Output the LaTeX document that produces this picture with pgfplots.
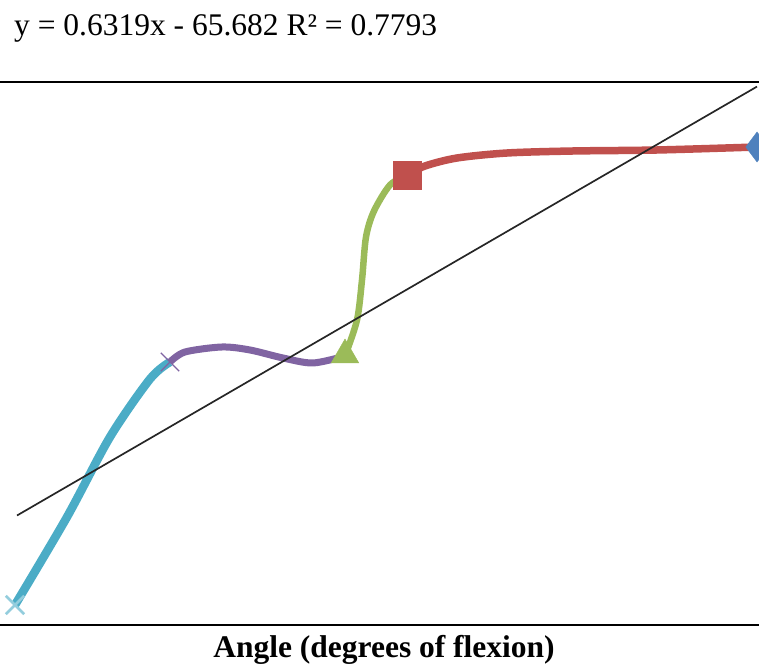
\documentclass[border=0pt]{standalone}
\usepackage{fontspec}
\setmainfont{Liberation Serif}
\usepackage{pgfplots}
\pgfplotsset{compat=1.18}
\definecolor{xlcyan}{HTML}{4BACC6}
\definecolor{xlpurple}{HTML}{8064A2}
\definecolor{xlgreen}{HTML}{9BBB59}
\definecolor{xlred}{HTML}{C0504D}
\definecolor{xlblue}{HTML}{4F81BD}
\begin{document}
\begin{tikzpicture}
\useasboundingbox (0pt,-38pt) rectangle (759pt,625pt);
\begin{axis}[
  scale only axis,
  width=759pt, height=543pt,
  xmin=0, xmax=759, ymin=0, ymax=543,
  axis x line=box, axis y line=none,
  x axis line style={black, line width=2pt},
  xtick=\empty, ytick=\empty,
  clip=true,
]
% cyan segment
\addplot[xlcyan, line width=8.5pt, smooth] coordinates {
  (15,20) (67,108) (110,188) (150,246) (170,263)
};
% purple segment
\addplot[xlpurple, line width=7pt, smooth] coordinates {
  (170,263) (185,273) (222,278) (250,275) (283,267) (313,262) (345,269)
};
% green segment
\addplot[xlgreen, line width=6.5pt, smooth] coordinates {
  (345,269) (357,305) (362,345) (366,388) (374,414) (390,440) (407,450)
};
% red segment
\addplot[xlred, line width=7.5pt, smooth] coordinates {
  (407,450) (425,459) (457,467) (507,472) (573,474) (657,475) (757,478)
};
% markers
\addplot[only marks, mark=x, mark size=13pt, mark options={xlcyan!60, line width=2.5pt}] coordinates {(15,20)};
\addplot[only marks, mark=x, mark size=13pt, mark options={xlpurple, line width=1.2pt}] coordinates {(170,263)};
\addplot[only marks, mark=triangle*, mark size=16pt, mark options={xlgreen, fill=xlgreen}] coordinates {(345,270)};
\addplot[only marks, mark=square*, mark size=14pt, mark options={xlred, fill=xlred}] coordinates {(407,450)};
\addplot[only marks, mark=diamond*, mark size=15pt, mark options={xlblue, fill=xlblue}] coordinates {(757,478)};
% linear trendline
\addplot[black!85, line width=1.7pt] coordinates {(17,109.5) (757,538.4)};
\end{axis}
\node[anchor=base west, inner sep=0pt, font=\fontsize{31.5}{36}\selectfont] at (14pt,589pt) {y = 0.6319x - 65.682 R² = 0.7793};
\node[anchor=base, inner sep=0pt, font=\fontsize{31.5}{36}\selectfont\bfseries] at (384pt,-32pt) {Angle (degrees of flexion)};
\end{tikzpicture}
\end{document}
